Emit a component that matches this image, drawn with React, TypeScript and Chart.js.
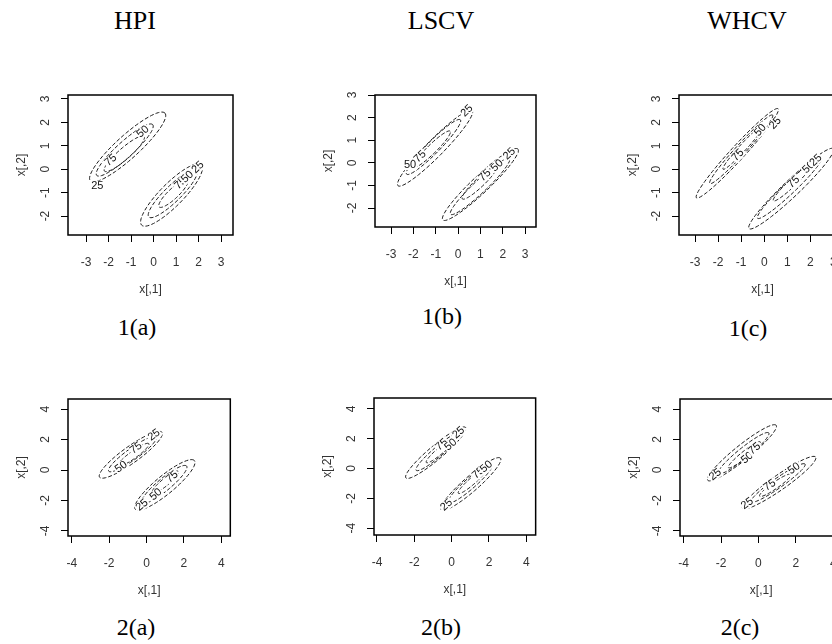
import React, { useEffect, useRef } from "react";
import { Chart, registerables } from "chart.js";
Chart.register(...registerables);

// ---------- data ----------
const COLUMN_TITLES = ["HPI", "LSCV", "WHCV"];
const CAPTIONS = ["1(a)", "1(b)", "1(c)", "2(a)", "2(b)", "2(c)"];
const X_TITLE = "x[,1]";
const Y_TITLE = "x[,2]";
const ROW1_X_TICKS = [-3, -2, -1, 0, 1, 2, 3];
const ROW1_Y_TICKS = [-2, -1, 0, 1, 2, 3];
const ROW2_TICKS = [-4, -2, 0, 2, 4];

// axis ranges: [xMin, xMax, yMin, yMax]
const HPI1_RANGE = [-3.8, 3.53, -2.81, 3.17];
const LSCV1_RANGE = [-3.72, 3.49, -2.84, 3.0];
const WHCV1_RANGE = [-3.7, 3.55, -2.81, 3.17];
const HPI2_RANGE = [-4.2, 4.48, -4.33, 4.66];
const LSCV2_RANGE = [-4.16, 4.5, -4.46, 4.73];
const WHCV2_RANGE = [-4.19, 4.48, -4.33, 4.66];

// contour ellipses: [cx, cy, semi-major, semi-minor, angle(deg), cluster]
const HPI1_CONTOURS = [
  [-1.15, 0.95, 2.2, 0.5, 41, 0], [-1.28, 0.82, 1.65, 0.35, 41, 0], [-1.3, 0.66, 1.15, 0.25, 40, 0],
  [0.8, -1.1, 1.85, 0.5, 44, 1], [0.85, -1.05, 1.45, 0.35, 43, 1], [0.88, -1.04, 0.85, 0.22, 42, 1],
];
const LSCV1_CONTOURS = [
  [-1.03, 0.65, 2.35, 0.38, 45, 0], [-1.1, 0.7, 1.7, 0.28, 45, 0], [-1.18, 0.6, 1.15, 0.2, 44, 0],
  [1.0, -0.96, 2.3, 0.38, 43, 1], [0.98, -1.05, 1.8, 0.28, 43, 1], [0.96, -0.88, 1.05, 0.2, 43, 1],
];
const WHCV1_CONTOURS = [
  [-1.17, 0.68, 2.6, 0.3, 47, 0], [-1.0, 0.85, 2.0, 0.22, 47, 0], [-0.9, 0.95, 1.3, 0.15, 47, 0],
  [1.17, -0.83, 2.5, 0.35, 43, 1], [1.1, -0.8, 1.9, 0.25, 43, 1], [1.2, -0.6, 1.1, 0.16, 43, 1],
];
const HPI2_CONTOURS = [
  [-0.84, 1.0, 2.23, 0.5, 42, 0], [-0.75, 1.05, 1.7, 0.35, 42, 0], [-0.7, 1.0, 1.1, 0.22, 42, 0],
  [0.98, -0.98, 2.25, 0.55, 46, 1], [0.95, -0.95, 1.7, 0.38, 46, 1], [1.0, -0.8, 1.0, 0.22, 46, 1],
];
const LSCV2_CONTOURS = [
  [-0.85, 1.06, 2.33, 0.42, 47, 0], [-0.7, 1.15, 1.75, 0.3, 47, 0], [-0.6, 1.2, 1.1, 0.2, 47, 0],
  [1.03, -1.04, 2.35, 0.45, 48, 1], [1.0, -1.0, 1.75, 0.32, 48, 1], [1.1, -0.85, 1.1, 0.2, 48, 1],
];
const WHCV2_CONTOURS = [
  [-0.88, 1.13, 2.57, 0.45, 45, 0], [-0.8, 1.1, 1.9, 0.32, 45, 0], [-0.75, 1.0, 1.2, 0.2, 45, 0],
  [1.1, -0.83, 2.58, 0.45, 41, 1], [1.05, -0.85, 1.9, 0.3, 41, 1], [0.9, -1.0, 1.1, 0.2, 41, 1],
];

// contour labels: [text, x, y, cluster (-1 = horizontal)]
const HPI1_LABELS = [
  ["25", -2.5, -0.7, -1], ["75", -1.9, 0.38, 0], ["50", -0.47, 1.6, 0],
  ["75", 1.2, -0.6, 1], ["50", 1.5, -0.33, 1], ["25", 1.97, 0.08, 1],
];
const LSCV1_LABELS = [
  ["25", 0.4, 2.3, 0], ["75", -1.7, 0.28, 0], ["50", -2.15, -0.1, -1],
  ["75", 1.2, -0.55, 1], ["50", 1.75, -0.12, 1], ["25", 2.3, 0.4, 1],
];
const WHCV1_LABELS = [
  ["50", -0.17, 1.67, 0], ["25", 0.48, 1.97, 0], ["75", -1.14, 0.6, 0],
  ["75", 1.28, -0.55, 1], ["50", 1.93, 0.08, 1], ["25", 2.24, 0.38, 1],
];
const HPI2_LABELS = [
  ["25", 0.4, 2.3, 0], ["75", -0.56, 1.44, 0], ["50", -1.36, 0.2, 0],
  ["75", 1.37, -0.46, 1], ["50", 0.5, -1.6, 1], ["25", -0.24, -2.3, 1],
];
const LSCV2_LABELS = [
  ["25", 0.37, 2.4, 0], ["75", -0.53, 1.6, 0], ["50", -0.05, 1.6, 0],
  ["25", -0.27, -2.45, 1], ["75", 1.43, -0.3, 1], ["50", 1.86, 0.12, 1],
];
const WHCV2_LABELS = [
  ["25", -2.3, -0.3, 0], ["50", -0.6, 0.8, 0], ["75", -0.2, 1.4, 0],
  ["25", -0.6, -2.2, 1], ["75", 0.6, -1.0, 1], ["50", 1.9, 0.1, 1],
];

// ---------- layout ----------
const SANS = "'Liberation Sans', Arial, sans-serif";
const SERIF = "'Liberation Serif', 'Times New Roman', serif";
const PADL = 56, PADT = 6, PADR = 6, PADB = 64;
const AXIS_FONT = 12;

const PANELS = [
  { box: [68, 95, 233, 235], range: HPI1_RANGE, xt: ROW1_X_TICKS, yt: ROW1_Y_TICKS, contours: HPI1_CONTOURS, labels: HPI1_LABELS, cap: [137, 327] },
  { box: [375, 95, 536, 227], range: LSCV1_RANGE, xt: ROW1_X_TICKS, yt: ROW1_Y_TICKS, contours: LSCV1_CONTOURS, labels: LSCV1_LABELS, cap: [442, 316] },
  { box: [679, 95, 846, 235], range: WHCV1_RANGE, xt: ROW1_X_TICKS, yt: ROW1_Y_TICKS, contours: WHCV1_CONTOURS, labels: WHCV1_LABELS, cap: [748, 328] },
  { box: [68, 399, 232, 536], range: HPI2_RANGE, xt: ROW2_TICKS, yt: ROW2_TICKS, contours: HPI2_CONTOURS, labels: HPI2_LABELS, cap: [136, 627] },
  { box: [374, 398, 537, 535], range: LSCV2_RANGE, xt: ROW2_TICKS, yt: ROW2_TICKS, contours: LSCV2_CONTOURS, labels: LSCV2_LABELS, cap: [441, 627] },
  { box: [680, 399, 844, 536], range: WHCV2_RANGE, xt: ROW2_TICKS, yt: ROW2_TICKS, contours: WHCV2_CONTOURS, labels: WHCV2_LABELS, cap: [740, 627] },
];
const TITLE_POS = [[135, 21], [441, 21], [747, 21]];

function ellipsePoints(e: number[]) {
  const [cx, cy, a, b, ang] = e;
  const th = (ang * Math.PI) / 180;
  const pts: { x: number; y: number }[] = [];
  const n = 72;
  for (let i = 0; i <= n; i++) {
    const t = (i / n) * Math.PI * 2;
    pts.push({
      x: cx + a * Math.cos(th) * Math.cos(t) - b * Math.sin(th) * Math.sin(t),
      y: cy + a * Math.sin(th) * Math.cos(t) + b * Math.cos(th) * Math.sin(t),
    });
  }
  return pts;
}

function Panel({ p }: { p: any }) {
  const ref = useRef<HTMLCanvasElement>(null);
  const [l, t, r, b] = p.box;
  const W = r - l + PADL + PADR;
  const H = b - t + PADT + PADB;
  useEffect(() => {
    const lh = AXIS_FONT * 1.2;
    const clusterAngle: Record<number, number> = {};
    p.contours.forEach((c: number[]) => { clusterAngle[c[5]] = c[4]; });
    const labelPlugin = {
      id: "contourLabels",
      afterDatasetsDraw(chart: any) {
        const { ctx, chartArea, scales } = chart;
        const xs = scales.x, ys = scales.y;
        const kx = Math.abs(xs.getPixelForValue(1) - xs.getPixelForValue(0));
        const ky = Math.abs(ys.getPixelForValue(1) - ys.getPixelForValue(0));
        ctx.save();
        ctx.beginPath();
        ctx.rect(chartArea.left, chartArea.top, chartArea.right - chartArea.left, chartArea.bottom - chartArea.top);
        ctx.clip();
        ctx.font = `11px ${SANS}`;
        ctx.textAlign = "center";
        ctx.textBaseline = "middle";
        p.labels.forEach((lab: any[]) => {
          const [txt, x, y, cl] = lab;
          const px = xs.getPixelForValue(x);
          const py = ys.getPixelForValue(y);
          let rot = 0;
          if (cl >= 0) {
            const th = (clusterAngle[cl] * Math.PI) / 180;
            rot = Math.atan2(-Math.sin(th) * ky, Math.cos(th) * kx);
          }
          ctx.save();
          ctx.translate(px, py);
          ctx.rotate(rot);
          const w = ctx.measureText(txt).width;
          ctx.fillStyle = "#fff";
          ctx.fillRect(-w / 2 - 1, -5, w + 2, 10);
          ctx.fillStyle = "#111";
          ctx.fillText(txt, 0, 0);
          ctx.restore();
        });
        ctx.restore();
        // plot frame
        ctx.save();
        ctx.strokeStyle = "#000";
        ctx.lineWidth = 1.5;
        ctx.strokeRect(chartArea.left, chartArea.top, chartArea.right - chartArea.left, chartArea.bottom - chartArea.top);
        ctx.restore();
        // y tick labels, R style (parallel to the axis)
        ctx.save();
        ctx.font = `${AXIS_FONT}px ${SANS}`;
        ctx.fillStyle = "#333";
        ctx.textAlign = "center";
        ctx.textBaseline = "middle";
        ys.ticks.forEach((tk: any) => {
          const py = ys.getPixelForValue(tk.value);
          ctx.save();
          ctx.translate(chartArea.left - 22, py);
          ctx.rotate(-Math.PI / 2);
          ctx.fillText(String(tk.value), 0, 0);
          ctx.restore();
        });
        ctx.restore();
      },
    };
    const chart = new Chart(ref.current as HTMLCanvasElement, {
      type: "scatter",
      data: {
        datasets: p.contours.map((c: number[]) => ({
          data: ellipsePoints(c),
          showLine: true,
          borderColor: "#1a1a1a",
          borderWidth: 1,
          borderDash: [4, 2],
          pointRadius: 0,
          fill: false,
          tension: 0,
        })),
      },
      options: {
        animation: false,
        responsive: false,
        events: [],
        layout: { padding: { top: PADT, right: PADR, left: 0, bottom: 0 } },
        plugins: { legend: { display: false }, tooltip: { enabled: false } },
        scales: {
          x: {
            type: "linear",
            min: p.range[0],
            max: p.range[1],
            afterBuildTicks: (s: any) => { s.ticks = p.xt.map((v: number) => ({ value: v })); },
            afterFit: (s: any) => { s.height = PADB; },
            grid: { drawOnChartArea: false, drawTicks: true, tickLength: 7, color: "#000", lineWidth: 1 },
            border: { display: false },
            ticks: { font: { size: AXIS_FONT, family: SANS }, color: "#333", padding: 13, maxRotation: 0, autoSkip: false },
            title: { display: true, text: X_TITLE, font: { size: AXIS_FONT, family: SANS }, color: "#333", padding: { top: 0, bottom: PADB - 55 - lh / 2 } },
          },
          y: {
            type: "linear",
            min: p.range[2],
            max: p.range[3],
            afterBuildTicks: (s: any) => { s.ticks = p.yt.map((v: number) => ({ value: v })); },
            afterFit: (s: any) => { s.width = PADL; },
            grid: { drawOnChartArea: false, drawTicks: true, tickLength: 7, color: "#000", lineWidth: 1 },
            border: { display: false },
            ticks: { display: false, autoSkip: false },
            title: { display: true, text: Y_TITLE, font: { size: AXIS_FONT, family: SANS }, color: "#333", padding: { top: PADL - 46 - lh / 2, bottom: 0 } },
          },
        },
      },
      plugins: [labelPlugin],
    } as any);
    return () => chart.destroy();
  }, []);
  return (
    <canvas
      ref={ref}
      width={W}
      height={H}
      style={{ position: "absolute", left: l - PADL, top: t - PADT, width: W, height: H }}
    />
  );
}

export default function App() {
  return (
    <div style={{ position: "fixed", left: 0, top: 0, width: 832, height: 644, overflow: "hidden", background: "#fff" }}>
      {PANELS.map((p, i) => (
        <Panel key={i} p={p} />
      ))}
      {COLUMN_TITLES.map((s, i) => (
        <div key={"t" + i} style={{ position: "absolute", left: TITLE_POS[i][0] - 60, top: TITLE_POS[i][1] - 15, width: 120, textAlign: "center", font: `26px ${SERIF}`, lineHeight: "30px", color: "#000" }}>{s}</div>
      ))}
      {PANELS.map((p, i) => (
        <div key={"c" + i} style={{ position: "absolute", left: p.cap[0] - 60, top: p.cap[1] - 14, width: 120, textAlign: "center", font: `24px ${SERIF}`, lineHeight: "28px", color: "#000" }}>{CAPTIONS[i]}</div>
      ))}
    </div>
  );
}
